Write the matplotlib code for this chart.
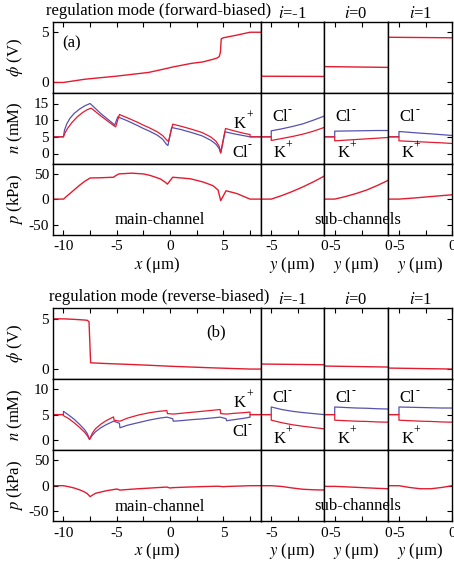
import matplotlib
matplotlib.use('Agg')  # headless
import matplotlib.pyplot as plt

plt.rcParams['font.family'] = ['Liberation Serif', 'DejaVu Serif']
plt.rcParams['mathtext.fontset'] = 'stix'
plt.rcParams['axes.unicode_minus'] = False

RED = '#e31b2f'
BLUE = '#5552b0'

# ---------------- panel (a): forward-biased ----------------
# main channel, potential
A_PHI_X = [-11, -10, -8, -5, -2, -0.3, 0.3, 2, 3.1, 4.0, 4.45, 4.62, 4.72, 4.8, 5.0, 6.2, 7.5, 8.5]
A_PHI = [0, 0, 0.32, 0.63, 1.0, 1.4, 1.55, 1.9, 2.05, 2.3, 2.45, 2.6, 3.0, 4.35, 4.45, 4.7, 5.0, 5.0]

# main channel, K+ and Cl- concentration
A_K_X = [-11, -10, -9.85, -9.6, -9.2, -8.7, -8.2, -7.8, -7.4, -6.5, -5.3, -5.1, -4.75,
         -4, -3, -2.5, -2, -1.2, -0.7, -0.3, -0.15, 0.25, 1, 2, 3, 3.8, 4.3, 4.6, 4.75,
         4.85, 5.2, 6, 7, 7.5, 7.5, 8.5]
A_K = [5, 5, 6.2, 7.6, 9.3, 11.0, 12.3, 13.1, 13.6, 11.3, 8.4, 8.0, 11.7,
       10.7, 9.3, 8.5, 7.8, 6.5, 5.4, 4.0, 3.6, 8.8, 8.2, 7.3, 6.3, 5.0, 3.7, 2.2, 0.3,
       2.0, 7.5, 6.8, 6.0, 5.7, 5.0, 5.0]
A_CL_X = [-11, -10, -9.9, -9.7, -9.4, -9, -8.5, -8, -7.5, -6.5, -5.35, -5.2, -4.9,
          -4, -3, -2.5, -2, -1.2, -0.7, -0.35, -0.2, 0.15, 1, 2, 3, 3.8, 4.3, 4.6, 4.75,
          4.85, 5.15, 6, 7, 7.5, 8.5]
A_CL = [5, 5, 7.0, 8.8, 10.5, 12.0, 13.3, 14.3, 15.0, 12.0, 9.0, 8.5, 11.0,
        9.8, 8.3, 7.5, 6.8, 5.5, 4.3, 2.8, 2.4, 7.8, 7.2, 6.3, 5.3, 4.0, 2.8, 1.5, 0.1,
        1.5, 6.5, 5.9, 5.3, 5.0, 5.0]

# main channel, pressure
A_P_X = [-11, -10, -9.5, -9, -8.5, -8, -7.5, -6.5, -5.3, -5.1, -4.8, -3.6, -2.5, -1.9,
         -1.5, -0.9, -0.5, -0.25, 0.25, 1.9, 3.1, 4.0, 4.5, 4.75, 5.25, 6.25, 7.5, 8.5]
A_P = [0, 0, 9, 18, 27, 35, 41.5, 42, 43, 46, 49.5, 51, 49.5, 46.7,
       44, 39.5, 34, 29.5, 43, 40, 33.6, 26.6, 18, -3, 16.4, 11, 0, 0]

# sub-channels i = -1, 0, 1
SUB_PHI_Y = [-6, 0]
A_PHI_SUB = [[0.62, 0.60], [1.58, 1.50], [4.50, 4.45]]

SUB_N_Y = [-6, -5, -5, -4, -3, -2, -1, 0]
A_K_SUB = [[5, 5, 3.9, 4.5, 5.1, 5.8, 6.7, 7.8],
           [5, 5, 3.8, 4.0, 4.2, 4.4, 4.6, 4.8],
           [5, 5, 3.8, 3.65, 3.5, 3.35, 3.2, 3.0]]
A_CL_SUB = [[5, 5, 6.8, 7.4, 8.1, 8.9, 10.0, 11.2],
            [5, 5, 6.7, 6.75, 6.8, 6.85, 6.9, 6.9],
            [5, 5, 6.6, 6.35, 6.1, 5.9, 5.65, 5.4]]

SUB_P_Y = [-6, -5, -4, -3, -2, -1, 0]
A_P_SUB = [[0, 0, 7, 15, 24, 34, 45],
           [0, 0, 5, 11, 18, 27, 37],
           [0, 0, 1.5, 3.2, 5.0, 6.8, 8.5]]

# ---------------- panel (b): reverse-biased ----------------
B_PHI_X = [-11, -10, -9, -8, -7.75, -7.6, -7.45, -6, -4, -2, 0, 2, 4, 6, 7.5, 8.5]
B_PHI = [5.0, 5.0, 4.95, 4.88, 4.85, 4.7, 0.62, 0.55, 0.47, 0.38, 0.28, 0.2, 0.12, 0.05, 0.0, 0.0]

B_K_X = [-11, -10, -10, -9.5, -9, -8.5, -8, -7.75, -7.55, -7.3, -7, -6.5, -6, -5.3,
         -5.25, -4.7, -4, -3, -2, -1, -0.3, -0.25, 0.3, 1, 2, 3, 4, 4.7,
         4.75, 5.3, 6, 7, 7.5, 7.5, 8.5]
B_K = [5.0, 5.0, 4.8, 4.2, 3.4, 2.5, 1.5, 0.8, 0.1, 1.3, 2.2, 3.1, 3.8, 4.55,
       3.9, 3.7, 4.3, 4.9, 5.35, 5.65, 5.8, 5.2, 5.1, 5.25, 5.45, 5.65, 5.85, 6.0,
       5.2, 5.1, 5.25, 5.4, 5.5, 5.0, 5.0]
B_CL_X = [-11, -10, -10, -9.5, -9, -8.5, -8, -7.75, -7.55, -7.3, -7, -6.5, -6, -5.3,
          -4.75, -4.7, -4, -3, -2, -1, -0.3, 0.25, 0.3, 1, 2, 3, 4, 4.7,
          5.25, 5.3, 6, 7, 7.5, 7.5, 8.5]
B_CL = [5.0, 5.0, 5.65, 4.9, 4.1, 3.1, 2.0, 1.2, 0.1, 0.9, 1.6, 2.4, 3.0, 3.7,
        3.3, 2.4, 2.9, 3.4, 3.9, 4.3, 4.5, 4.2, 3.7, 3.8, 4.0, 4.15, 4.35, 4.5,
        4.2, 3.8, 4.0, 4.3, 4.5, 5.0, 5.0]

B_P_X = [-11, -10, -9.5, -9, -8.5, -8, -7.75, -7.5, -7, -6.5, -6, -5.2, -5.0, -4.7,
         -4, -3, -2, -1, -0.3, 0, 0.3, 1.5, 3, 4.5, 5.0, 5.3, 6.5, 7.5, 8.5]
B_P = [0, 0, -2, -4.5, -8, -12.5, -16, -21.5, -15, -12.5, -10, -7.2, -6.5, -8.6,
       -7.5, -6, -4.8, -3.5, -2.7, -4.5, -3.8, -2.8, -1.8, -1, -2, -1.5, -0.7, 0, 0]

B_PHI_SUB = [[0.50, 0.43], [0.30, 0.20], [0.10, 0.0]]
B_K_SUB = [[5, 5, 3.9, 3.4, 3.0, 2.7, 2.45, 2.2],
           [5, 5, 3.9, 3.8, 3.7, 3.65, 3.55, 3.5],
           [5, 5, 3.9, 3.8, 3.7, 3.65, 3.55, 3.5]]
B_CL_SUB = [[5, 5, 6.5, 6.0, 5.65, 5.4, 5.2, 5.0],
            [5, 5, 6.5, 6.4, 6.3, 6.25, 6.15, 6.1],
            [5, 5, 6.5, 6.45, 6.4, 6.35, 6.3, 6.3]]
B_P_SUB = [[0, 0, -1.5, -4.5, -7.0, -8.0, -8.5],
           [-1.3, -1.3, -2.2, -3.2, -4.2, -5.2, -6.0],
           [0, 0, -3.5, -6.0, -6.0, -3.5, 0]]

SUB_TITLES = ['$i$=-1', '$i$=0', '$i$=1']

# ---------------- layout (pixels of a 454x564 figure) ----------------
W, H = 454, 564
COLS = [(53.3, 260.7), (260.7, 324.0), (324.0, 388.3), (388.3, 452.3)]
FS = 11
TFS = 12
SUP_DX = {'K': 4.4, 'Cl': 5.8}  # offset of the charge sign, points


def add_axes(fig, x0, x1, y0, y1):
    return fig.add_axes([x0 / W, 1 - y1 / H, (x1 - x0) / W, (y1 - y0) / H])


def ion_label(ax, x, y, base, sup):
    """Ion name with a small raised charge sign, placed in axes coords"""
    ax.text(x, y, base, transform=ax.transAxes, fontsize=TFS,
            ha='center', va='center')
    ax.annotate(sup, xy=(x, y), xycoords='axes fraction',
                xytext=(SUP_DX[base], 5.5), textcoords='offset points',
                fontsize=8.5, ha='left', va='center')


def style_axes(ax, row, col, ylim, yticks):
    ax.set_ylim(*ylim)
    ax.set_yticks(yticks)
    if col == 0:
        ax.set_xlim(-10.95, 8.5)
        ax.set_xticks([-10, -5, 0, 5])
        ax.set_xticks([-7.5, -2.5, 2.5, 7.5], minor=True)
    else:
        ax.set_xlim(-6, 0)
        ax.set_xticks([-5, 0])
        ax.set_xticks([-2.5], minor=True)
    ax.tick_params(axis='x', which='both', direction='in', length=3.5, width=0.8,
                   top=(row == 0), bottom=(row == 2), labelbottom=(row == 2),
                   labelsize=FS, pad=4)
    ax.tick_params(axis='y', which='both', direction='in', length=3.5, width=0.8,
                   left=(col == 0), right=(col == 3), labelleft=(col == 0),
                   labelsize=FS, pad=3)
    for s in ax.spines.values():
        s.set_linewidth(1.0)


def draw_panel(fig, top, d):
    rows = [(top, top + 70.8), (top + 70.8, top + 141.8), (top + 141.8, top + 213)]
    nlim, nticks = d['nlim']
    for col in range(4):
        x0, x1 = COLS[col]
        ax_phi = add_axes(fig, x0, x1, *rows[0])
        ax_n = add_axes(fig, x0, x1, *rows[1])
        ax_p = add_axes(fig, x0, x1, *rows[2])
        style_axes(ax_phi, 0, col, (-1, 6.05), [0, 5])
        style_axes(ax_n, 1, col, nlim, nticks)
        style_axes(ax_p, 2, col, (-70, 70), [-50, 0, 50])
        if col == 0:
            ax_phi.plot(d['phi_x'], d['phi'], color=RED, lw=1)
            ax_n.plot(d['cl_x'], d['cl'], color=BLUE, lw=0.9)
            ax_n.plot(d['k_x'], d['k'], color=RED, lw=0.9)
            ax_p.plot(d['p_x'], d['p'], color=RED, lw=1)
            ax_phi.set_ylabel(r'$\phi$ (V)', fontsize=TFS)
            ax_n.set_ylabel(r'$n$ (mM)', fontsize=TFS)
            ax_p.set_ylabel(r'$p$ (kPa)', fontsize=TFS)
            for a in (ax_phi, ax_n, ax_p):
                a.yaxis.set_label_coords(-0.135, 0.5)
            ax_p.set_xlabel('$x$ (μm)', fontsize=TFS, labelpad=1)
            ax_phi.text(*d['tag_pos'], d['tag'], transform=ax_phi.transAxes,
                        fontsize=TFS, ha='center', va='center')
            ion_label(ax_n, 0.9, d['k_lab'], 'K', '+')
            ion_label(ax_n, 0.9, d['cl_lab'], 'Cl', '-')
            ax_p.text(0.515, 0.2, 'main-channel', transform=ax_p.transAxes,
                      fontsize=TFS, ha='center', va='center')
        else:
            i = col - 1
            ax_phi.plot(SUB_PHI_Y, d['phi_sub'][i], color=RED, lw=1)
            ax_n.plot(SUB_N_Y, d['cl_sub'][i], color=BLUE, lw=0.9)
            ax_n.plot(SUB_N_Y, d['k_sub'][i], color=RED, lw=0.9)
            ax_p.plot(SUB_P_Y, d['p_sub'][i], color=RED, lw=1)
            ax_p.set_xlabel('$y$ (μm)', fontsize=TFS, labelpad=1)
            ax_phi.set_title(SUB_TITLES[i], fontsize=TFS, pad=3)
            ion_label(ax_n, 0.3, d['cl_sub_lab'], 'Cl', '-')
            ion_label(ax_n, 0.3, d['k_sub_lab'], 'K', '+')
    fig.text(159 / W, 1 - (top - 11) / H, d['title'], fontsize=TFS,
             ha='center', va='center')
    fig.text(358 / W, 1 - (top + 198) / H, 'sub-channels', fontsize=TFS,
             ha='center', va='center')


fig = plt.figure(figsize=(W / 100, H / 100), dpi=100)

panel_a = dict(phi_x=A_PHI_X, phi=A_PHI, k_x=A_K_X, k=A_K, cl_x=A_CL_X, cl=A_CL,
               p_x=A_P_X, p=A_P, phi_sub=A_PHI_SUB, k_sub=A_K_SUB, cl_sub=A_CL_SUB,
               p_sub=A_P_SUB, nlim=((-3, 18.3), [0, 5, 10, 15]),
               title='regulation mode (forward-biased)', tag='(a)', tag_pos=(0.09, 0.7),
               k_lab=0.56, cl_lab=0.15, cl_sub_lab=0.65, k_sub_lab=0.15)
panel_b = dict(phi_x=B_PHI_X, phi=B_PHI, k_x=B_K_X, k=B_K, cl_x=B_CL_X, cl=B_CL,
               p_x=B_P_X, p=B_P, phi_sub=B_PHI_SUB, k_sub=B_K_SUB, cl_sub=B_CL_SUB,
               p_sub=B_P_SUB, nlim=((-2, 12), [0, 5, 10]),
               title='regulation mode (reverse-biased)', tag='(b)', tag_pos=(0.786, 0.66),
               k_lab=0.67, cl_lab=0.25, cl_sub_lab=0.73, k_sub_lab=0.16)

draw_panel(fig, 21.7, panel_a)
draw_panel(fig, 308.3, panel_b)

fig.savefig('out.png', dpi=100)
